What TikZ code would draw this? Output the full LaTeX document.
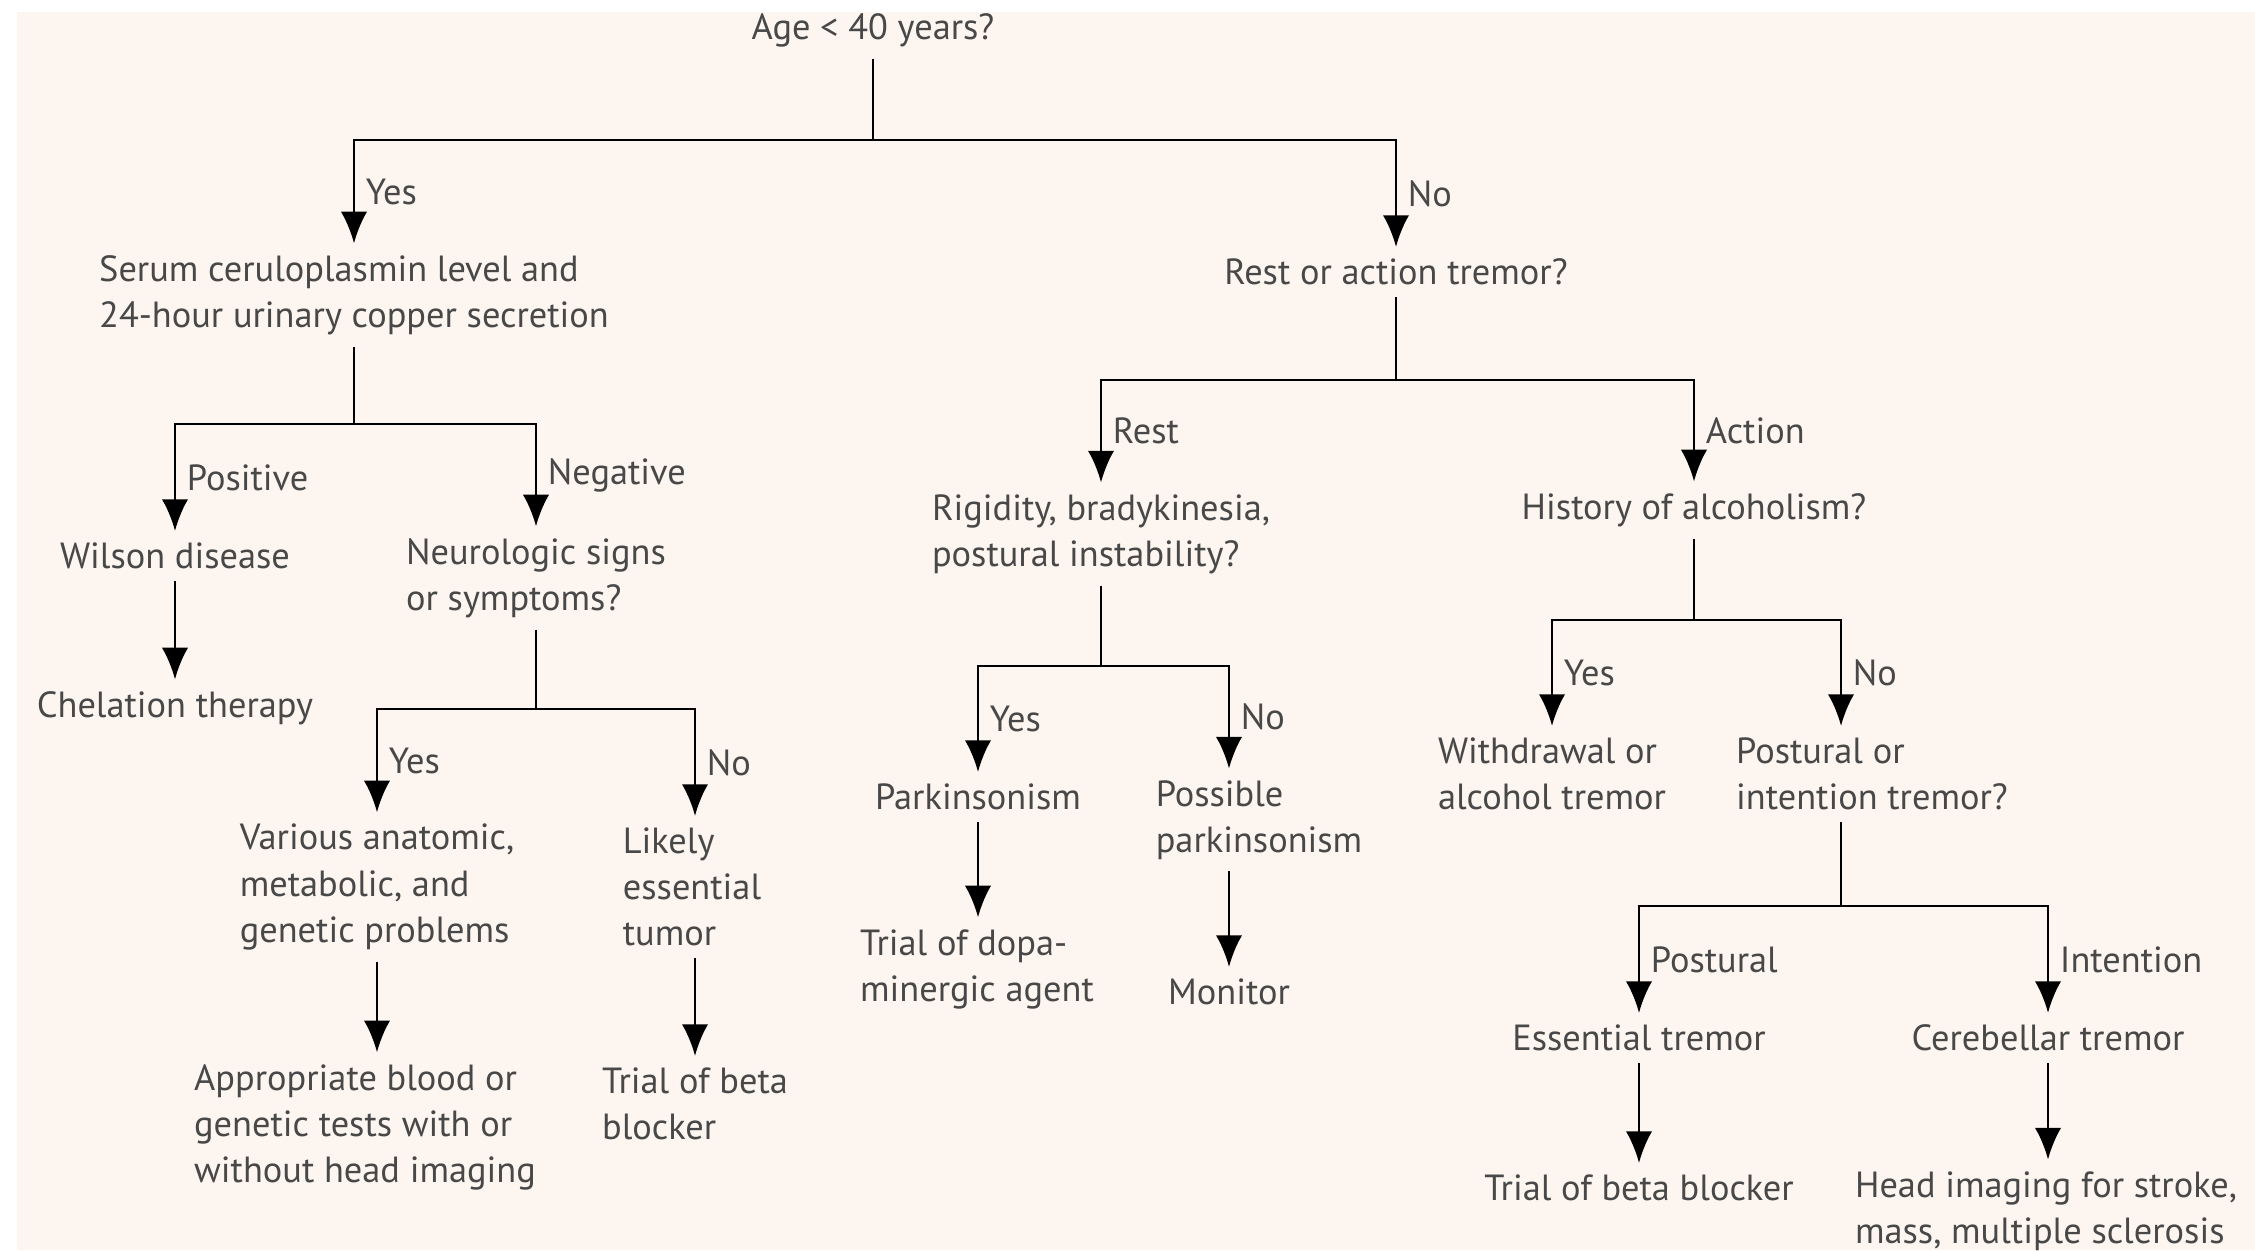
\documentclass[tikz,border=0pt]{standalone}
\usepackage{fontspec}
\setmainfont{PT Sans}
\usetikzlibrary{arrows.meta}

\definecolor{paper}{RGB}{253,246,240}
\definecolor{ink}{RGB}{72,72,72}

\tikzset{
  box/.style={inner sep=3pt, text=ink, align=left, font=\fontsize{10.35}{13.1}\selectfont},
  lab/.style={right, inner sep=3pt, text=ink, font=\fontsize{10.35}{13.1}\selectfont},
  arr/.style={-{Latex[length=9pt,width=7.5pt]}},
}

\begin{document}
\begin{tikzpicture}[line width=0.8pt]
		\useasboundingbox (0, 0) rectangle (22.55, -12.50);
		\fill [paper] (0.17, -0.12) rectangle (22.55, -12.50);

		% age split
		\node [box] (age) at (8.73, -0.30) {Age < 40 years?};
		\coordinate (j1) at (8.73, -1.40);
		\node [box] (serum) at (3.54, -2.95) {Serum ceruloplasmin level and\\24-hour urinary copper secretion};
		\node [box] (rest) at (13.96, -2.72) {Rest or action tremor?};
		\draw (age) -- (j1);
		\draw [arr] (j1) -| (serum) node [lab, pos = 0.75] {Yes};
		\draw [arr] (j1) -| (rest) node [lab, pos = 0.75] {No};

		% young side
		\coordinate (j2) at (3.54, -4.24);
		\node [box] (wilson) at (1.75, -5.56) {Wilson disease};
		\node [box] (neuro) at (5.36, -5.78) {Neurologic signs\\or symptoms?};
		\draw (serum) -- (j2);
		\draw [arr] (j2) -| (wilson) node [lab, pos = 0.75] {Positive};
		\draw [arr] (j2) -| (neuro) node [lab, pos = 0.75] {Negative};
		\node [box] (chel) at (1.75, -7.08) {Chelation therapy};
		\draw [arr] (wilson) -- (chel);

		\coordinate (j3) at (5.36, -7.09);
		\node [box] (various) at (3.77, -8.87) {Various anatomic,\\metabolic, and\\genetic problems};
		\node [box] (likely) at (6.92, -8.87) {Likely\\essential\\tumor};
		\draw (neuro) -- (j3);
		\draw [arr] (j3) -| (various) node [lab, pos = 0.75] {Yes};
		\draw [arr] (j3) -| ([xshift=0.03cm]likely.north) node [lab, pos = 0.75] {No};
		\node [box] (appro) at (3.65, -11.27) {Appropriate blood or\\genetic tests with or\\without head imaging};
		\node [box] (trial1) at (6.95, -11.04) {Trial of beta\\blocker};
		\draw [arr] (various.south) -- (various.south |- appro.north);
		\draw [arr] (trial1.north |- likely.south) -- (trial1.north);

		% older side
		\coordinate (j4) at (13.96, -3.80);
		\node [box] (rigid) at (11.01, -5.34) {Rigidity, bradykinesia,\\postural instability?};
		\node [box] (hist) at (16.94, -5.10) {History of alcoholism?};
		\draw (rest) -- (j4);
		\draw [arr] (j4) -| (rigid) node [lab, pos = 0.75] {Rest};
		\draw [arr] (j4) -| (hist) node [lab, pos = 0.75] {Action};

		\coordinate (j5) at (11.01, -6.66);
		\node [box] (parkin) at (9.78, -7.97) {Parkinsonism};
		\node [box] (possible) at (12.59, -8.20) {Possible\\parkinsonism};
		\node [box] (dopa) at (9.77, -9.69) {Trial of dopa-\\minergic agent};
		\node [box] (monitor) at (12.29, -9.92) {Monitor};
		\draw (rigid) -- (j5);
		\draw [arr] (j5) -| (parkin) node [lab, pos = 0.75] {Yes};
		\draw [arr] (j5) -| (monitor |- possible.north) node [lab, pos = 0.75] {No};
		\draw [arr] (parkin) -- (parkin |- dopa.north);
		\draw [arr] (monitor |- possible.south) -- (monitor);

		\coordinate (j6) at (16.94, -6.20);
		\node [box] (withdraw) at (15.52, -7.74) {Withdrawal or\\alcohol tremor};
		\node [box] (postor) at (18.72, -7.74) {Postural or\\intention tremor?};
		\draw (hist) -- (j6);
		\draw [arr] (j6) -| (withdraw) node [lab, pos = 0.75] {Yes};
		\draw [arr] (j6) -| ([xshift=-0.31cm]postor.north) node [lab, pos = 0.75] {No};

		\coordinate (j7) at (18.41, -9.06);
		\node [box] (ess) at (16.39, -10.38) {Essential tremor};
		\node [box] (cereb) at (20.48, -10.38) {Cerebellar tremor};
		\node [box] (trial2) at (16.39, -11.88) {Trial of beta blocker};
		\node [box] (headimg) at (20.46, -12.11) {Head imaging for stroke,\\mass, multiple sclerosis};
		\draw (postor.south -| j7) -- (j7);
		\draw [arr] (j7) -| (ess) node [lab, pos = 0.75] {Postural};
		\draw [arr] (j7) -| (cereb) node [lab, pos = 0.75] {Intention};
		\draw [arr] (ess) -- (trial2);
		\draw [arr] (cereb) -- (cereb |- headimg.north);
	\end{tikzpicture}
\end{document}
